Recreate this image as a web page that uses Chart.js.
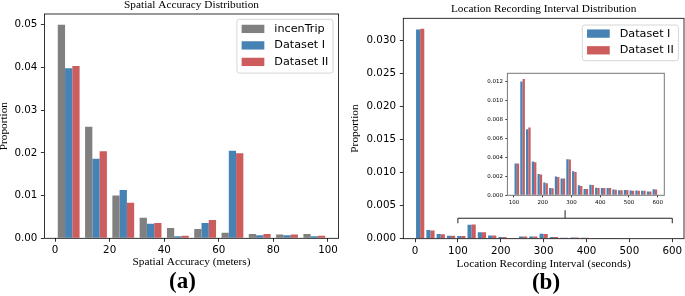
<!DOCTYPE html>
<html><head><meta charset="utf-8">
<script src="https://cdn.jsdelivr.net/npm/chart.js@4.4.1/dist/chart.umd.min.js"></script>
<style>
html,body{margin:0;padding:0;background:#fff;}
#wrap{position:relative;width:685px;height:296px;overflow:hidden;background:#fff;}
canvas{position:absolute;}
.panel{position:absolute;font-family:'Liberation Serif','Times New Roman',serif;font-weight:bold;font-size:23px;line-height:23px;white-space:nowrap;transform:translateX(-50%);color:#000;}
</style></head><body>
<div id="wrap">
<canvas id="cA" width="345" height="296" style="left:0;top:0;width:345px;height:296px"></canvas>
<canvas id="cB" width="340" height="296" style="left:345px;top:0;width:340px;height:296px"></canvas>
<canvas id="cC" width="190" height="150" style="left:480px;top:62px;width:190px;height:150px"></canvas>
<div class="panel" style="left:182.5px;top:268.7px">(a)</div>
<div class="panel" style="left:546px;top:269.7px">(b)</div>
</div>
<script>
// ---------- data: spatial accuracy (bin centres, metres) ----------
const accBins = [5, 15, 25, 35, 45, 55, 65, 75, 85, 95];
const accIncenTrip = [0.0500, 0.0261, 0.0100, 0.0048, 0.0024, 0.0022, 0.0013, 0.0010, 0.0009, 0.0010];
const accDataset1 = [0.0398, 0.0186, 0.0113, 0.0034, 0.0005, 0.0036, 0.0205, 0.0007, 0.0007, 0.0005];
const accDataset2 = [0.0403, 0.0204, 0.0083, 0.0036, 0.0006, 0.0043, 0.0199, 0.0010, 0.0009, 0.0006];
const accXTicks = [0, 20, 40, 60, 80, 100];
const accXLabels = ['0', '20', '40', '60', '80', '100'];
const accYTicks = [0, 0.01, 0.02, 0.03, 0.04, 0.05];
const accYLabels = ['0.00', '0.01', '0.02', '0.03', '0.04', '0.05'];

// ---------- data: recording interval (bin centres, seconds) ----------
const intBins = [12, 36, 60, 84, 108, 132, 156, 180, 204, 228, 252, 276, 300, 324, 348, 372, 396, 420, 444, 468, 492, 516, 540, 564, 588];
const intDataset1 = [0.0317, 0.00131, 0.00071, 0.00045, 0.00040, 0.00212, 0.00096, 0.00050, 0.00025, 0.00010, 0.00035, 0.00035, 0.00076, 0.00025, 0.00014, 0.00018, 0.00013, 0.00012, 0.00012, 0.00010, 0.00009, 0.00008, 0.00008, 0.00007, 0.00008];
const intDataset2 = [0.0318, 0.00126, 0.00066, 0.00045, 0.00040, 0.00217, 0.00096, 0.00050, 0.00025, 0.00010, 0.00035, 0.00035, 0.00070, 0.00024, 0.00014, 0.00017, 0.00013, 0.00012, 0.00011, 0.00010, 0.00009, 0.00008, 0.00008, 0.00007, 0.00008];
const intXTicks = [0, 100, 200, 300, 400, 500, 600];
const intXLabels = ['0', '100', '200', '300', '400', '500', '600'];
const intYTicks = [0, 0.005, 0.010, 0.015, 0.020, 0.025, 0.030];
const intYLabels = ['0.000', '0.005', '0.010', '0.015', '0.020', '0.025', '0.030'];
const zoomRange = [100, 600];
const zoomBracketLevel = 0.0031;

// ---------- data: inset (100-600 s) ----------
const insetBins = [110, 130, 150, 170, 190, 210, 230, 250, 270, 290, 310, 330, 350, 370, 390, 410, 430, 450, 470, 490, 510, 530, 550, 570, 590];
const insetDataset1 = [0.00335, 0.0120, 0.00697, 0.00356, 0.00225, 0.00134, 0.00077, 0.00197, 0.00176, 0.00380, 0.00254, 0.00106, 0.00067, 0.00110, 0.00080, 0.00077, 0.00077, 0.00060, 0.00053, 0.00056, 0.00050, 0.00050, 0.00048, 0.00040, 0.00063];
const insetDataset2 = [0.00335, 0.01225, 0.00715, 0.00349, 0.00218, 0.00127, 0.00074, 0.00194, 0.00176, 0.00377, 0.00246, 0.00099, 0.00067, 0.00108, 0.00078, 0.00076, 0.00076, 0.00059, 0.00052, 0.00055, 0.00049, 0.00049, 0.00047, 0.00040, 0.00062];
const insetXTicks = [100, 200, 300, 400, 500, 600];
const insetXLabels = ['100', '200', '300', '400', '500', '600'];
const insetYTicks = [0, 0.002, 0.004, 0.006, 0.008, 0.010, 0.012];
const insetYLabels = ['0.000', '0.002', '0.004', '0.006', '0.008', '0.010', '0.012'];

// ---------- styles ----------
const GRAY = '#808080', BLUE = '#4682B4', RED = '#CD5C5C';
const SERIF = "'Liberation Serif', 'Times New Roman', serif";
const SANS = "'DejaVu Sans', sans-serif";
Chart.defaults.font.family = SANS;
Chart.defaults.color = '#000';

const framePlugin = {
  id: 'frame',
  beforeDraw(chart, args, o) {
    const {ctx, chartArea: a} = chart;
    if (o.fill) { ctx.save(); ctx.fillStyle = o.fill; ctx.fillRect(a.left, a.top, a.right - a.left, a.bottom - a.top); ctx.restore(); }
  },
  afterDraw(chart, args, o) {
    const {ctx, chartArea: a} = chart;
    ctx.save();
    ctx.strokeStyle = o.color || '#000';
    ctx.lineWidth = o.width || 0.8;
    ctx.strokeRect(a.left, a.top, a.right - a.left, a.bottom - a.top);
    ctx.restore();
  }
};

const legendPlugin = {
  id: 'mplLegend',
  afterDraw(chart, args, o) {
    if (!o.show) return;
    const {ctx, chartArea: a} = chart;
    const ds = chart.data.datasets;
    ctx.save();
    ctx.font = o.font;
    const tw = Math.max(...ds.map(d => ctx.measureText(d.label).width));
    const w = o.pad + o.swW + o.gap + tw + o.pad;
    const h = o.top + (ds.length - 1) * o.row + o.bottom;
    const x0 = a.right - o.dx - w, y0 = a.top + o.dy, r = 2.5;
    ctx.beginPath();
    ctx.moveTo(x0 + r, y0);
    ctx.arcTo(x0 + w, y0, x0 + w, y0 + h, r);
    ctx.arcTo(x0 + w, y0 + h, x0, y0 + h, r);
    ctx.arcTo(x0, y0 + h, x0, y0, r);
    ctx.arcTo(x0, y0, x0 + w, y0, r);
    ctx.closePath();
    ctx.fillStyle = 'rgba(255,255,255,0.85)';
    ctx.fill();
    ctx.strokeStyle = '#d6d6d6';
    ctx.lineWidth = 1;
    ctx.stroke();
    ds.forEach((d, i) => {
      const cy = y0 + o.top + i * o.row;
      ctx.fillStyle = d.backgroundColor;
      ctx.fillRect(x0 + o.pad, cy - o.swH / 2, o.swW, o.swH);
      ctx.fillStyle = '#000';
      ctx.textBaseline = 'middle';
      ctx.textAlign = 'left';
      ctx.fillText(d.label, x0 + o.pad + o.swW + o.gap, cy);
    });
    ctx.restore();
  }
};

const bracketPlugin = {
  id: 'bracket',
  afterDatasetsDraw(chart, args, o) {
    if (!o.show) return;
    const {ctx} = chart;
    const xs = chart.scales.x, ys = chart.scales.y;
    const x1 = xs.getPixelForValue(o.range[0]);
    const x2 = xs.getPixelForValue(o.range[1]);
    const xm = (x1 + x2) / 2;
    const yy = ys.getPixelForValue(o.level);
    ctx.save();
    ctx.strokeStyle = '#222';
    ctx.lineWidth = 1;
    ctx.lineJoin = 'round';
    ctx.beginPath();
    ctx.moveTo(x1, yy + o.leg);
    ctx.lineTo(x1, yy);
    ctx.lineTo(x2, yy);
    ctx.lineTo(x2, yy + o.leg);
    ctx.moveTo(xm, yy);
    ctx.lineTo(xm, yy - o.tick);
    ctx.stroke();
    ctx.restore();
  }
};

function fixedTicks(values) { return (axis) => { axis.ticks = values.map(v => ({value: v})); }; }

function makeScales(cfg) {
  return {
    x: {
      type: 'linear', offset: false, min: cfg.xMin, max: cfg.xMax,
      afterBuildTicks: fixedTicks(cfg.xTicks),
      afterFit: (s) => { s.height = cfg.xH; },
      grid: {display: true, offset: false, drawOnChartArea: false, drawTicks: true, tickLength: cfg.tickLen, tickWidth: 0.8, tickColor: '#000'},
      border: {display: false},
      ticks: {autoSkip: false, maxRotation: 0, padding: cfg.xPad, color: '#000', font: {family: SANS, size: cfg.tickFont},
        callback: (v, i) => cfg.xLabels[i]},
      title: cfg.xTitle ? {display: true, text: cfg.xTitle, font: {family: SERIF, size: 11.3, lineHeight: 1.2}, color: '#000', padding: {top: 0, bottom: cfg.xTitlePad}} : {display: false}
    },
    y: {
      type: 'linear', min: 0, max: cfg.yMax,
      afterBuildTicks: fixedTicks(cfg.yTicks),
      afterFit: (s) => { s.width = cfg.yW; },
      grid: {display: true, drawOnChartArea: false, drawTicks: true, tickLength: cfg.tickLen, tickWidth: 0.8, tickColor: '#000'},
      border: {display: false},
      ticks: {autoSkip: false, padding: cfg.yPad, color: '#000', font: {family: SANS, size: cfg.tickFont},
        callback: (v, i) => cfg.yLabels[i]},
      title: cfg.yTitle ? {display: true, text: cfg.yTitle, font: {family: SERIF, size: 11.3, lineHeight: 0.6}, color: '#000', padding: {top: cfg.yTitlePad, bottom: 0}} : {display: false}
    }
  };
}

function barDs(label, data, color) {
  return {label, data, backgroundColor: color, borderWidth: 0,
    categoryPercentage: 0.8, barPercentage: 1.0, grouped: true};
}

// ---------- chart (a) ----------
new Chart(document.getElementById('cA'), {
  type: 'bar',
  data: {labels: accBins, datasets: [
    barDs('incenTrip', accIncenTrip, GRAY),
    barDs('Dataset I', accDataset1, BLUE),
    barDs('Dataset II', accDataset2, RED)
  ]},
  plugins: [framePlugin, legendPlugin],
  options: {
    responsive: false, devicePixelRatio: 1, animation: false, events: [],
    layout: {autoPadding: false, padding: {left: 0, top: 0, right: 6.4, bottom: 0}},
    scales: makeScales({xMin: -3.9, xMax: 103.9, xTicks: accXTicks, xLabels: accXLabels, xH: 57.7, xPad: 2.5,
      yMax: 0.0525, yTicks: accYTicks, yLabels: accYLabels, yW: 44.4, yPad: 3.5, tickLen: 3.5, tickFont: 10.3,
      xTitle: 'Spatial Accuracy (meters)', xTitlePad: 26.7, yTitle: 'Proportion', yTitlePad: 0.3}),
    plugins: {
      legend: {display: false}, tooltip: {enabled: false},
      title: {display: true, text: 'Spatial Accuracy Distribution', fullSize: false, color: '#000',
        font: {family: SERIF, size: 11.3, weight: 'normal', lineHeight: 0.6}, padding: {top: 1.3, bottom: 5.92}},
      frame: {color: '#000', width: 0.8},
      mplLegend: {show: true, font: '11.2px ' + SANS, pad: 4.7, swW: 22.7, swH: 8.3, gap: 10, row: 16.5, top: 9.6, bottom: 11.2, dx: 5.6, dy: 5.3}
    }
  }
});

// ---------- chart (b) ----------
new Chart(document.getElementById('cB'), {
  type: 'bar',
  data: {labels: intBins, datasets: [
    barDs('Dataset I', intDataset1, BLUE),
    barDs('Dataset II', intDataset2, RED)
  ]},
  plugins: [framePlugin, legendPlugin, bracketPlugin],
  options: {
    responsive: false, devicePixelRatio: 1, animation: false, events: [],
    layout: {autoPadding: false, padding: {left: 0, top: 0, right: 1, bottom: 0}},
    scales: makeScales({xMin: -27.36, xMax: 627.36, xTicks: intXTicks, xLabels: intXLabels, xH: 57.3, xPad: 2.5,
      yMax: 0.03339, yTicks: intYTicks, yLabels: intYLabels, yW: 58.3, yPad: 3.8, tickLen: 3.5, tickFont: 10.3,
      xTitle: 'Location Recording Interval (seconds)', xTitlePad: 25.5, yTitle: 'Proportion', yTitlePad: 7.1}),
    plugins: {
      legend: {display: false}, tooltip: {enabled: false},
      title: {display: true, text: 'Location Recording Interval Distribution', fullSize: false, color: '#000',
        font: {family: SERIF, size: 11.3, weight: 'normal', lineHeight: 0.6}, padding: {top: 5.3, bottom: 6.22}},
      frame: {color: '#000', width: 0.8},
      mplLegend: {show: true, font: '11.2px ' + SANS, pad: 4.7, swW: 22.7, swH: 8.3, gap: 10, row: 16.7, top: 8.6, bottom: 10.4, dx: 5.6, dy: 6.7},
      bracket: {show: true, range: zoomRange, level: zoomBracketLevel, leg: 5, tick: 8}
    }
  }
});

// ---------- inset ----------
new Chart(document.getElementById('cC'), {
  type: 'bar',
  data: {labels: insetBins, datasets: [
    barDs('Dataset I', insetDataset1, BLUE),
    barDs('Dataset II', insetDataset2, RED)
  ]},
  plugins: [framePlugin],
  options: {
    responsive: false, devicePixelRatio: 1, animation: false, events: [],
    layout: {autoPadding: false, padding: {left: 0, top: 11.3, right: 5.7, bottom: 0}},
    scales: makeScales({xMin: 77.2, xMax: 622.8, xTicks: insetXTicks, xLabels: insetXLabels, xH: 16.7, xPad: 1.5,
      yMax: 0.01286, yTicks: insetYTicks, yLabels: insetYLabels, yW: 27.4, yPad: 2.5, tickLen: 2, tickFont: 5.5}),
    plugins: {
      legend: {display: false}, tooltip: {enabled: false}, title: {display: false},
      frame: {color: '#777', width: 1, fill: '#fff'}
    }
  }
});
</script>
</body></html>
